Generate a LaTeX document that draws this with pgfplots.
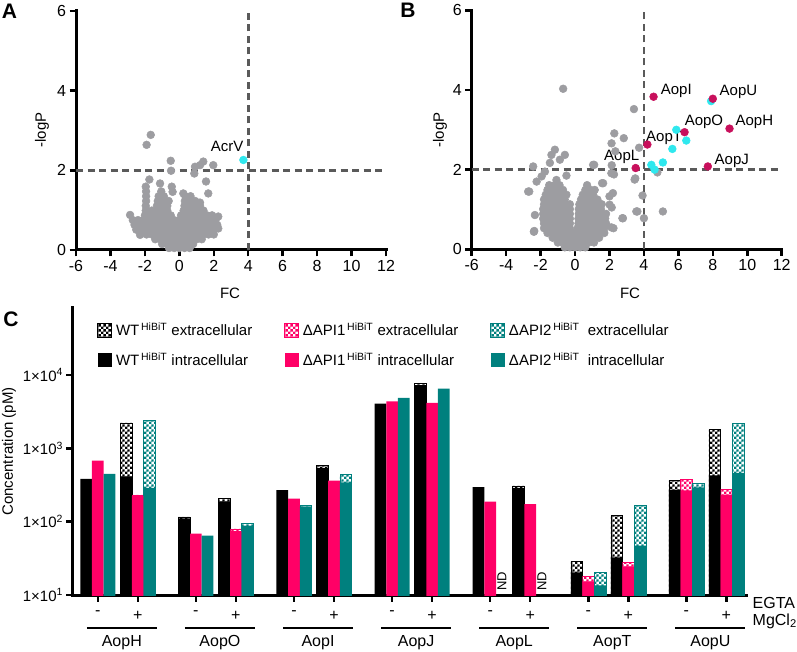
\documentclass[border=0pt]{standalone}
\usepackage{fontspec}
\setmainfont{Liberation Sans}
\usepackage{pgfplots}
\pgfplotsset{compat=1.18}
\usetikzlibrary{patterns}

\definecolor{dotgray}{HTML}{9D9DA1}
\definecolor{dotcyan}{HTML}{2FE8EE}
\definecolor{dotmag}{HTML}{C8105C}
\definecolor{dashgray}{HTML}{5A5A5A}
\definecolor{apione}{HTML}{FF0066}
\definecolor{apitwo}{HTML}{00807E}

% checkerboard for the extracellular share of a bar
\pgfdeclarepatternformonly{fineboard}{\pgfpointorigin}{\pgfqpoint{4.8pt}{4.8pt}}{\pgfqpoint{4.8pt}{4.8pt}}{%
  \pgfpathrectangle{\pgfpointorigin}{\pgfqpoint{2.4pt}{2.4pt}}%
  \pgfpathrectangle{\pgfqpoint{2.4pt}{2.4pt}}{\pgfqpoint{2.4pt}{2.4pt}}%
  \pgfusepath{fill}}

\newcommand{\fs}[1]{\fontsize{#1}{#1}\selectfont}

\pgfplotsset{
  volcano/.style={
    scale only axis, width=310pt, height=239pt,
    xmin=-6, xmax=12, ymin=0, ymax=6,
    axis x line*=bottom, axis y line*=left,
    axis line style={line width=3pt, black, line cap=rect},
    xtick={-6,-4,-2,0,2,4,6,8,10,12}, ytick={0,2,4,6},
    xticklabels={-6,-4,-2,0,2,4,6,8,10,12},
    yticklabels={0,2,4,6},
    tick align=outside, major tick length=6.5pt,
    tick style={line width=2.5pt, black},
    tick label style={font=\fs{16}},
    clip=false,
  },
  dots/.style={only marks, mark=*, mark size=3.9pt, mark options={draw=#1, fill=#1, line width=0.5pt}},
  guide/.style={dashgray, line width=2.6pt, dash pattern=on 7pt off 4.5pt, forget plot},
  legsq/.style={legend image code/.code={\path[##1] (0pt,-7pt) rectangle (14pt,7pt);}},
  intra/.style={ybar, bar width=11.67, bar shift=#1, draw=none, legsq},
  extra/.style 2 args={ybar, bar width=11.67, bar shift=#1, draw=#2, line width=0.6pt,
    pattern=fineboard, pattern color=#2, legsq},
}

\begin{document}
\begin{tikzpicture}[x=1pt, y=1pt]
\useasboundingbox (0,0) rectangle (797,651);

%% ---------------- Panel A ----------------
\begin{axis}[volcano, at={(76pt,401pt)}, anchor=south west]
\addplot[dots=dotgray] coordinates {
(-0.6,0.05)(-0.3,0.05)(0,0.05)(0.3,0.05)(0.6,0.05)
(-1.0,0.15)(-0.7,0.15)(-0.4,0.15)(-0.1,0.15)(0.2,0.15)(0.5,0.15)(0.8,0.15)
(-1.4,0.27)(-1.1,0.27)(-0.8,0.27)(-0.5,0.27)(-0.2,0.27)(0.1,0.27)(0.4,0.27)(0.7,0.27)(1.0,0.27)(1.3,0.27)
(-1.9,0.39)(-1.6,0.39)(-1.3,0.39)(-1.0,0.39)(-0.7,0.39)(-0.4,0.39)(-0.1,0.39)(0.2,0.39)(0.5,0.39)(0.8,0.39)(1.1,0.39)(1.4,0.39)(1.7,0.39)(2.0,0.39)
(-2.5,0.51)(-2.2,0.51)(-1.9,0.51)(-1.6,0.51)(-1.3,0.51)(-1.0,0.51)(-0.7,0.51)(-0.4,0.51)(-0.1,0.51)(0.2,0.51)(0.5,0.51)(0.8,0.51)(1.1,0.51)(1.4,0.51)(1.7,0.51)(2.0,0.51)
(-2.6,0.63)(-2.3,0.63)(-2.0,0.63)(-1.7,0.63)(-1.4,0.63)(-1.1,0.63)(-0.8,0.63)(-0.5,0.63)(-0.2,0.63)(0.1,0.63)(0.4,0.63)(0.7,0.63)(1.0,0.63)(1.3,0.63)(1.6,0.63)(1.9,0.63)(2.2,0.63)
(-2.7,0.75)(-2.4,0.75)(-2.1,0.75)(-1.8,0.75)(-1.5,0.75)(-1.2,0.75)(-0.9,0.75)(-0.6,0.75)(-0.3,0.75)(0,0.75)(0.3,0.75)(0.6,0.75)(0.9,0.75)(1.2,0.75)(1.5,0.75)(1.8,0.75)(2.1,0.75)
(-2.0,0.87)(-1.7,0.87)(-1.4,0.87)(-1.1,0.87)(-0.8,0.87)(-0.5,0.87)(0.1,0.87)(0.4,0.87)(0.7,0.87)(1.0,0.87)(1.3,0.87)(1.6,0.87)(1.9,0.87)
(-1.95,0.99)(-1.6,0.99)(-1.3,0.99)(-1.0,0.99)(-0.7,0.99)(0.25,0.99)(0.5,0.99)(0.8,0.99)(1.1,0.99)(1.4,0.99)
(-1.95,1.11)(-1.3,1.11)(-1.0,1.11)(-0.7,1.11)(0.3,1.11)(0.6,1.11)(0.9,1.11)(1.2,1.11)
(-1.93,1.23)(-1.25,1.23)(-0.95,1.23)(-0.62,1.23)(0.32,1.23)(0.62,1.23)(0.92,1.23)
(-1.93,1.35)(-1.2,1.35)(-0.9,1.35)(0.35,1.35)(0.65,1.35)
(-1.93,1.47)(-1.05,1.47)(-1.95,1.59)
(-1.66,2.89)(-1.9,2.64)(-0.5,2.24)(-0.48,1.99)(0.91,2.09)(1.2,2.13)(1.39,2.22)(1.97,2.13)
(0.87,1.92)(1.55,1.72)(1.68,1.42)(1.2,1.19)(-0.44,1.59)(-0.39,1.46)(-1.12,1.67)(-1.74,1.77)
(-2.86,0.88)(2.26,0.84)(2.26,0.54)(-2.28,0.38)(0.23,1.42)
};
\addplot[guide] coordinates {(-6,2) (12,2)};
\addplot[guide] coordinates {(4,0) (4,6)};
\addplot[dots=dotcyan] coordinates {(3.72,2.26)};
\node[anchor=west, inner sep=0pt, font=\fs{15}] at (axis cs:1.82,2.59) {AcrV};
\end{axis}

%% ---------------- Panel B ----------------
\begin{axis}[volcano, at={(471.7pt,401.7pt)}, anchor=south west]
\addplot[dots=dotgray] coordinates {
(-0.6,0.05)(-0.3,0.05)(0,0.05)(0.3,0.05)(0.6,0.05)
(-1.0,0.17)(-0.7,0.17)(-0.4,0.17)(-0.1,0.17)(0.2,0.17)(0.5,0.17)(0.8,0.17)(1.1,0.17)
(-1.3,0.29)(-1.0,0.29)(-0.7,0.29)(-0.4,0.29)(-0.1,0.29)(0.2,0.29)(0.5,0.29)(0.8,0.29)(1.1,0.29)(1.4,0.29)
(-1.6,0.41)(-1.3,0.41)(-1.0,0.41)(-0.7,0.41)(-0.4,0.41)(-0.1,0.41)(0.2,0.41)(0.5,0.41)(0.8,0.41)(1.1,0.41)(1.4,0.41)(1.7,0.41)
(-1.8,0.53)(-1.5,0.53)(-1.2,0.53)(-0.9,0.53)(-0.6,0.53)(-0.3,0.53)(0.15,0.53)(0.45,0.53)(0.8,0.53)(1.1,0.53)(1.4,0.53)(1.7,0.53)
(-1.8,0.65)(-1.5,0.65)(-1.2,0.65)(-0.9,0.65)(-0.6,0.65)(-0.3,0.65)(0.2,0.65)(0.5,0.65)(0.85,0.65)(1.15,0.65)(1.45,0.65)(1.8,0.65)
(-1.85,0.77)(-1.55,0.77)(-1.25,0.77)(-0.95,0.77)(-0.65,0.77)(-0.3,0.77)(0.2,0.77)(0.5,0.77)(0.85,0.77)(1.15,0.77)(1.45,0.77)(1.75,0.77)
(-1.85,0.89)(-1.55,0.89)(-1.25,0.89)(-0.95,0.89)(-0.65,0.89)(-0.3,0.89)(0.22,0.89)(0.55,0.89)(0.9,0.89)(1.2,0.89)(1.5,0.89)(1.8,0.89)
(-1.85,1.01)(-1.55,1.01)(-1.25,1.01)(-0.95,1.01)(-0.65,1.01)(-0.3,1.01)(0.22,1.01)(0.55,1.01)(0.9,1.01)(1.2,1.01)(1.5,1.01)
(-1.8,1.13)(-1.5,1.13)(-1.2,1.13)(-0.9,1.13)(-0.6,1.13)(-0.3,1.13)(0.25,1.13)(0.6,1.13)(0.95,1.13)(1.25,1.13)(1.55,1.13)
(-1.8,1.25)(-1.5,1.25)(-1.2,1.25)(-0.9,1.25)(-0.6,1.25)(0.35,1.25)(0.7,1.25)(1.0,1.25)(1.3,1.25)
(-1.7,1.37)(-1.4,1.37)(-1.1,1.37)(-0.8,1.37)(-0.5,1.37)(0.45,1.37)(0.75,1.37)(1.05,1.37)
(-1.6,1.49)(-1.3,1.49)(-1.0,1.49)(-0.7,1.49)(0.6,1.49)(0.9,1.49)
(-1.5,1.61)(-1.2,1.61)(-0.9,1.61)(0.7,1.61)
(-0.69,4.03)(3.42,3.52)(2.28,2.91)(2.83,2.79)(2.12,2.66)(3.72,2.55)(2.34,2.46)(1.11,2.12)
(2.13,2.11)(2.26,1.88)(3.5,1.78)(4.78,1.93)(3.92,1.35)(3.62,0.95)(4.0,0.78)(5.1,0.95)
(2.75,0.78)(2.23,0.53)(1.57,1.66)(2.0,1.33)(2.13,1.05)
(-1.17,2.50)(-1.37,2.37)(-0.59,2.37)(-0.88,2.25)(-1.46,2.17)(-2.43,2.08)(-1.75,1.95)
(-1.94,1.83)(-0.5,1.85)(-2.23,1.70)(-1.08,1.74)(1.05,2.12)(1.63,1.66)(1.14,1.49)(2.11,1.91)
(2.2,1.41)(2.01,1.12)(2.78,0.78)(2.11,0.55)(1.63,0.44)(3.56,0.95)(3.46,1.75)
(-2.66,1.45)(-2.39,0.44)(-2.72,1.45)(-2.33,0.86)(-2.37,0.46)
};
\addplot[guide] coordinates {(-6,2) (12,2)};
\addplot[guide] coordinates {(4,0) (4,6)};
\addplot[dots=dotcyan] coordinates {
(7.9,3.72)(5.88,3.0)(6.46,2.73)(5.65,2.52)(5.1,2.18)(4.43,2.12)(4.62,2.0)
};
\addplot[dots=dotmag] coordinates {
(4.56,3.83)(8.0,3.78)(6.36,2.94)(8.97,3.03)(4.2,2.63)(3.52,2.04)(7.71,2.08)
};
\begin{scope}[every node/.style={anchor=west, inner sep=0pt, font=\fs{15}}]
\node at (axis cs:4.97,3.97) {AopI};
\node at (axis cs:8.39,3.94) {AopU};
\node at (axis cs:6.36,3.20) {AopO};
\node at (axis cs:9.31,3.20) {AopH};
\node at (axis cs:4.12,2.79) {AopT};
\node at (axis cs:1.68,2.32) {AopL};
\node at (axis cs:8.10,2.23) {AopJ};
\end{scope}
\end{axis}

%% axis titles and panel letters of the two volcano plots
\node[font=\fs{15}] at (230,358) {FC};
\node[font=\fs{15}] at (630,358) {FC};
\node[font=\fs{15}, rotate=90] at (42,521) {-logP};
\node[font=\fs{15}, rotate=90] at (440,521) {-logP};
\node[font=\bfseries\fs{21}] at (9.5,640) {A};
\node[font=\bfseries\fs{21}] at (408,641) {B};
\node[font=\bfseries\fs{21}] at (11,332) {C};

%% ---------------- Panel C ----------------
\begin{axis}[
  at={(73pt,56pt)}, anchor=south west,
  scale only axis, width=673pt, height=287pt,
  xmin=73, xmax=746, ymode=log, ymin=10, ymax=82000,
  axis x line*=bottom, axis y line*=left,
  axis line style={line width=3pt, black, line cap=rect},
  xtick={97.8,137.8,195.9,235.9,294.0,334.0,392.1,432.1,490.2,530.2,588.3,628.3,686.4,726.4},
  xticklabels={-,+,-,+,-,+,-,+,-,+,-,+,-,+},
  ytick={10,100,1000,10000},
  yticklabels={1×10\textsuperscript{1},1×10\textsuperscript{2},1×10\textsuperscript{3},1×10\textsuperscript{4}},
  tick align=outside, major tick length=6.5pt, minor tick length=0pt,
  tick style={line width=2.5pt, black},
  xticklabel style={font=\fs{16}, yshift=-6pt},
  yticklabel style={font=\fs{15}},
  legend columns=3,
  legend cell align=left,
  legend style={draw=none, fill=none, inner sep=0pt, anchor=north west,
    at={(axis description cs:0.036,0.955)}, font=\fs{15}, row sep=11pt,
    /tikz/every odd column/.append style={column sep=2pt},
    /tikz/every even column/.append style={column sep=30pt}},
]
% extracellular part: full height (intra + extra), drawn first
\addplot[extra={-11.67}{black}] coordinates {
(137.8,2222)(195.9,116)(235.9,210)(334.0,586)(432.1,7640)(530.2,307)
(588.3,28.7)(628.3,122)(686.4,362)(726.4,1800)};
\addplot[extra={0}{apione}] coordinates {
(137.8,232)(235.9,79.5)(588.3,17.9)(628.3,27.9)(686.4,374)(726.4,273)};
\addplot[extra={11.67}{apitwo}] coordinates {
(137.8,2388)(235.9,94)(294.0,166)(334.0,442)(588.3,20.3)(628.3,165)(686.4,330)(726.4,2173)};
% intracellular part
\addplot[intra={-11.67}, fill=black] coordinates {
(97.8,383)(137.8,415)(195.9,111)(235.9,189)(294.0,270)(334.0,541)(392.1,4074)(432.1,7300)
(490.2,297)(530.2,288)(588.3,20.3)(628.3,32.6)(686.4,273)(726.4,428)};
\addplot[intra={0}, fill=apione] coordinates {
(97.8,679)(137.8,223)(195.9,68.6)(235.9,74.6)(294.0,206)(334.0,362)(392.1,4375)(432.1,4160)
(490.2,187.6)(530.2,174)(588.3,15.3)(628.3,24.6)(686.4,267)(726.4,233)};
\addplot[intra={11.67}, fill=apitwo] coordinates {
(97.8,448)(137.8,288)(195.9,64.4)(235.9,88)(294.0,160)(334.0,344)(392.1,4875)(432.1,6520)
(588.3,13.5)(628.3,47.1)(686.4,294)(726.4,462)};
\legend{WT\textsuperscript{\,HiBiT} extracellular,
        ΔAPI1\textsuperscript{\,HiBiT} extracellular,
        ΔAPI2\textsuperscript{\,HiBiT}\ \ extracellular,
        WT\textsuperscript{\,HiBiT} intracellular,
        ΔAPI1\textsuperscript{\,HiBiT} intracellular,
        ΔAPI2\textsuperscript{\,HiBiT}\ \ intracellular}
\end{axis}

%% y title, not-detected marks, condition rows and gene groups
\node[font=\fs{15}, rotate=90] at (9,199.5) {Concentration (pM)};
\node[font=\fs{13}, rotate=90] at (501.9,70) {ND};
\node[font=\fs{13}, rotate=90] at (541.9,70) {ND};
\node[font=\fs{16}, anchor=base west, inner sep=0pt] at (752.5,42.7) {EGTA};
\node[font=\fs{16}, anchor=base west, inner sep=0pt] at (752.5,26) {MgCl\textsubscript{2}};
\foreach \c/\g in {121.8/AopH,219.9/AopO,318.0/AopI,416.1/AopJ,514.2/AopL,612.3/AopT,710.4/AopU}{
  \draw[line width=1.6pt] (\c-35,23) -- (\c+35,23);
  \node[font=\fs{16}, anchor=base, inner sep=0pt] at (\c,4.3) {\g};
}
\end{tikzpicture}
\end{document}
